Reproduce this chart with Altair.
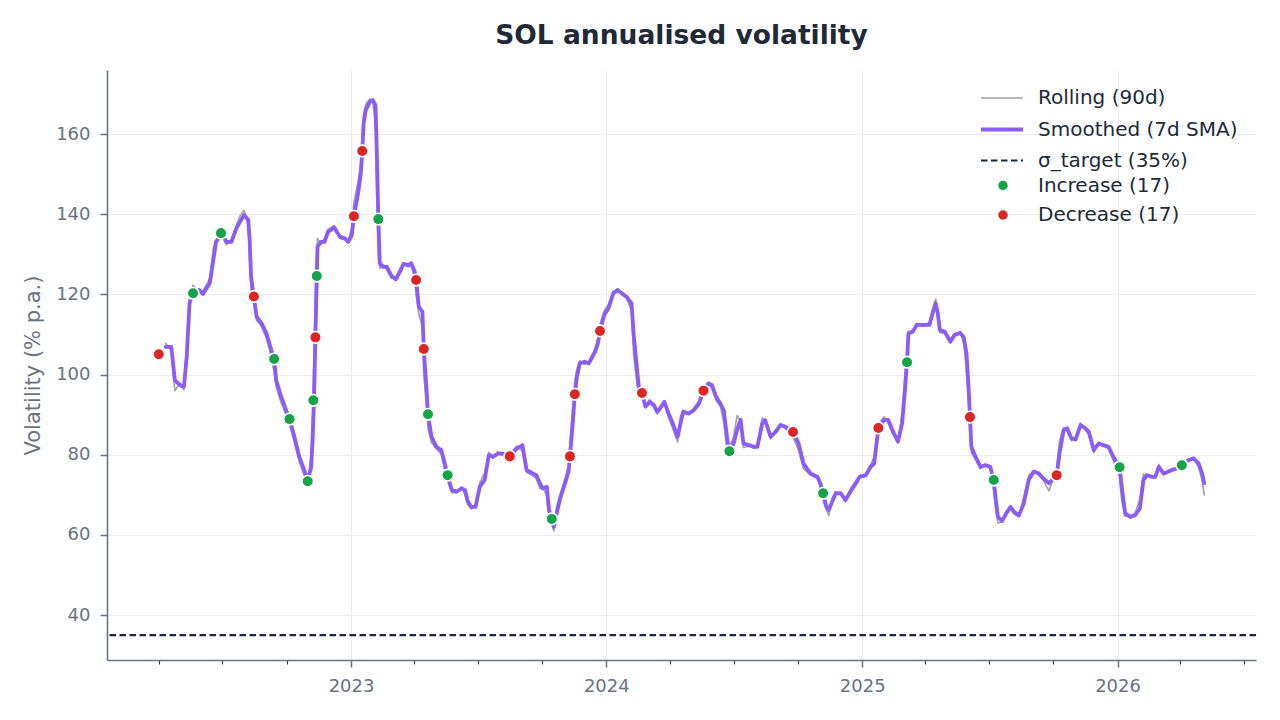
import altair as alt
import pandas as pd

# ---- data ----
dates = [
    # 2022
    "2022-04-11","2022-04-19","2022-04-24","2022-05-01","2022-05-07","2022-05-11","2022-05-15","2022-05-20","2022-05-29","2022-06-03",
    "2022-06-13","2022-06-18","2022-06-22","2022-06-30","2022-07-07","2022-07-14","2022-07-21","2022-07-26","2022-08-01","2022-08-07",
    "2022-08-09","2022-08-11","2022-08-15","2022-08-19","2022-08-26","2022-09-02","2022-09-09","2022-09-13","2022-09-16","2022-09-23",
    "2022-10-01","2022-10-05","2022-10-12","2022-10-19","2022-10-26","2022-10-31","2022-11-05","2022-11-07","2022-11-09","2022-11-11",
    "2022-11-13","2022-11-14","2022-11-19","2022-11-24","2022-11-29","2022-12-08","2022-12-16","2022-12-23","2022-12-28",
    # 2023
    "2023-01-02","2023-01-05","2023-01-11","2023-01-15","2023-01-17","2023-01-19","2023-01-22","2023-01-28","2023-02-01","2023-02-05",
    "2023-02-07","2023-02-09","2023-02-11","2023-02-16","2023-02-21","2023-02-28","2023-03-06","2023-03-12","2023-03-17","2023-03-24",
    "2023-03-28","2023-04-02","2023-04-04","2023-04-08","2023-04-13","2023-04-15","2023-04-19","2023-04-21","2023-04-26","2023-05-03",
    "2023-05-10","2023-05-15","2023-05-19","2023-05-25","2023-06-01","2023-06-08","2023-06-13","2023-06-17","2023-06-22","2023-06-28",
    "2023-07-04","2023-07-11","2023-07-17","2023-07-23","2023-07-30","2023-08-06","2023-08-16","2023-08-26","2023-09-03","2023-09-09",
    "2023-09-16","2023-09-23","2023-09-28","2023-10-02","2023-10-08","2023-10-11","2023-10-15","2023-10-18","2023-10-22","2023-10-27",
    "2023-11-03","2023-11-08","2023-11-10","2023-11-14","2023-11-17","2023-11-20","2023-11-24","2023-12-01","2023-12-07","2023-12-16",
    "2023-12-20","2023-12-23","2023-12-29",
    # 2024
    "2024-01-04","2024-01-11","2024-01-17","2024-01-23","2024-01-30","2024-02-06","2024-02-09","2024-02-14","2024-02-17","2024-02-21",
    "2024-02-26","2024-03-03","2024-03-09","2024-03-14","2024-03-18","2024-03-24","2024-03-30","2024-04-06","2024-04-12","2024-04-16",
    "2024-04-20","2024-04-28","2024-05-05","2024-05-12","2024-05-19","2024-05-26","2024-05-31","2024-06-06","2024-06-12","2024-06-17",
    "2024-06-22","2024-06-25","2024-07-01","2024-07-06","2024-07-11","2024-07-15","2024-07-23","2024-07-30","2024-08-04","2024-08-11",
    "2024-08-15","2024-08-23","2024-08-30","2024-09-06","2024-09-13","2024-09-24","2024-10-02","2024-10-09","2024-10-19","2024-10-29",
    "2024-11-02","2024-11-06","2024-11-10","2024-11-14","2024-11-19","2024-11-24","2024-12-01","2024-12-08","2024-12-15","2024-12-23",
    "2024-12-28",
    # 2025
    "2025-01-06","2025-01-13","2025-01-18","2025-01-22","2025-01-24","2025-02-01","2025-02-07","2025-02-13","2025-02-21","2025-02-27",
    "2025-03-03","2025-03-06","2025-03-08","2025-03-14","2025-03-20","2025-03-28","2025-04-07","2025-04-11","2025-04-16","2025-04-19",
    "2025-04-22","2025-04-29","2025-05-07","2025-05-13","2025-05-21","2025-05-26","2025-05-30","2025-06-02","2025-06-04","2025-06-06",
    "2025-06-12","2025-06-19","2025-06-26","2025-07-03","2025-07-08","2025-07-11","2025-07-14","2025-07-20","2025-07-26","2025-08-01",
    "2025-08-06","2025-08-13","2025-08-20","2025-08-27","2025-09-03","2025-09-10","2025-09-17","2025-09-25","2025-10-06","2025-10-10",
    "2025-10-16","2025-10-21","2025-10-27","2025-11-02","2025-11-09","2025-11-16","2025-11-21","2025-11-28","2025-12-05","2025-12-12",
    "2025-12-19","2025-12-26",
    # 2026
    "2026-01-04","2026-01-07","2026-01-12","2026-01-19","2026-01-26","2026-02-02","2026-02-07","2026-02-12","2026-02-19","2026-02-24",
    "2026-03-01","2026-03-08","2026-03-17","2026-03-27","2026-04-03","2026-04-13","2026-04-20","2026-04-27","2026-05-02","2026-05-05",
]

smoothed = [
    # 2022
    106.9,106.9,98.6,97.4,97.0,104.4,117.8,120.7,121.1,120.1,
    122.8,128.6,133.1,135.2,133.1,133.1,136.5,138.1,139.8,138.6,
    133.6,124.4,119.4,114.4,112.8,110.3,106.1,103.8,98.6,94.5,
    90.7,88.9,84.5,79.5,76.2,73.5,77.0,83.7,93.6,109.4,
    124.6,131.9,133.1,133.1,135.6,136.7,134.4,134.0,133.1,
    # 2023
    134.8,139.5,145.2,150.2,155.8,162.7,166.0,168.1,168.5,167.2,
    154.3,139.0,127.8,126.9,126.9,124.6,123.8,125.7,127.6,127.3,
    127.8,125.7,123.6,116.9,115.7,106.3,96.1,90.1,84.5,82.0,
    81.2,77.8,74.8,71.2,70.8,71.6,71.2,68.3,67.0,67.0,
    72.0,73.7,79.9,79.5,80.3,80.3,79.5,81.6,82.4,76.2,
    75.5,74.9,72.9,71.6,72.0,66.2,64.0,62.0,65.4,69.1,
    72.9,75.8,79.5,87.8,95.1,99.5,102.8,103.2,102.8,105.7,
    107.8,110.9,114.9,
    # 2024
    116.5,120.3,121.1,120.3,119.4,117.8,110.3,101.1,96.1,95.3,
    92.0,93.2,92.4,90.7,91.6,93.2,90.3,87.4,84.5,87.8,
    90.7,90.3,91.1,92.6,95.9,97.8,97.4,94.5,92.8,91.1,
    83.7,80.9,82.8,86.2,88.7,82.8,82.4,82.0,82.0,87.8,
    88.7,84.5,85.7,87.4,87.0,85.6,82.8,77.8,75.3,74.5,
    72.9,70.5,67.4,66.2,68.3,70.4,70.4,68.7,70.8,72.9,
    74.5,
    # 2025
    74.9,77.0,77.8,83.7,86.6,88.7,88.7,86.2,83.3,87.8,
    96.1,103.0,110.3,110.7,112.4,112.4,112.4,114.9,117.8,115.3,
    111.1,110.7,108.2,109.9,110.4,109.4,105.3,97.0,89.4,82.0,
    79.5,77.0,77.4,77.0,73.7,68.7,64.5,63.5,65.4,67.0,
    65.8,64.9,67.9,73.7,75.8,75.4,74.1,72.9,74.9,80.3,
    86.2,86.6,84.1,83.8,87.4,86.6,85.7,81.2,82.8,82.4,
    82.0,79.5,
    # 2026
    76.9,72.0,65.4,64.5,64.9,66.6,73.7,74.9,74.5,74.5,
    77.0,75.3,76.0,76.6,77.4,78.7,79.1,77.8,75.3,72.9,
]

rolling = [
    # 2022
    107.8,106.0,96.0,97.8,96.2,108.0,119.5,122.3,120.4,120.8,
    124.0,131.5,133.8,134.5,132.4,133.8,137.2,139.5,141.0,137.2,
    128.5,121.0,117.5,113.5,112.0,109.0,104.5,100.5,96.8,93.0,
    89.5,87.6,83.0,78.2,74.8,72.4,80.5,90.0,104.0,121.0,
    131.0,134.0,132.5,134.0,136.2,137.2,134.0,133.6,133.5,
    # 2023
    136.5,143.0,148.0,153.0,160.0,165.0,167.5,168.8,168.2,162.0,
    142.0,130.0,126.5,127.3,126.2,124.0,124.2,126.4,128.0,126.9,
    127.2,124.0,120.0,115.0,112.0,100.0,92.0,86.5,83.0,81.5,
    80.2,76.0,73.5,70.5,70.6,72.0,70.0,67.5,66.5,67.4,
    73.0,75.5,80.6,79.2,80.8,79.8,80.2,82.2,81.0,75.6,
    75.0,74.0,71.5,72.2,69.5,64.5,62.8,61.0,67.0,70.2,
    74.0,77.5,83.0,92.0,98.5,101.5,103.5,102.6,103.3,106.5,
    109.2,112.5,116.0,
    # 2024
    117.5,120.8,121.4,120.0,119.0,116.0,105.0,97.5,95.0,94.2,
    92.4,93.8,91.8,90.2,92.0,92.8,89.4,86.0,83.2,89.5,
    91.2,90.0,91.6,93.4,96.8,97.9,96.5,93.5,92.2,88.0,
    80.5,82.0,84.5,89.8,88.5,81.8,82.2,81.6,82.6,89.2,
    88.0,84.0,86.2,87.8,86.5,84.5,81.0,76.5,75.0,74.0,
    71.8,68.8,66.5,64.8,69.2,70.8,70.2,68.3,71.5,73.6,
    74.8,
    # 2025
    75.2,77.5,79.5,85.5,87.5,89.5,88.0,85.4,83.0,90.5,
    100.0,106.5,110.8,110.5,112.8,112.0,113.0,116.0,118.8,113.5,
    110.5,110.2,108.8,110.2,110.6,108.0,101.0,93.0,85.0,80.5,
    78.8,76.5,77.6,76.6,71.0,66.0,63.0,63.2,66.0,66.4,
    65.2,64.5,69.5,74.8,75.9,75.0,73.6,71.0,76.5,83.5,
    86.8,86.2,83.5,84.4,87.9,86.2,85.0,80.5,83.2,82.1,
    81.6,78.5,
    # 2026
    74.5,68.5,64.6,64.8,65.3,69.0,75.2,74.6,74.8,74.8,
    77.6,75.0,76.3,76.9,77.8,79.0,78.8,77.0,73.5,70.0,
]

inc_dates = ["2022-05-20","2022-06-29","2022-09-13","2022-10-05","2022-10-31","2022-11-08","2022-11-13",
             "2023-02-09","2023-04-21","2023-05-19","2023-10-15","2024-06-25","2024-11-06","2025-03-06",
             "2025-07-08","2026-01-04","2026-04-03"]
inc_vals = [120.3,135.3,103.9,88.9,73.4,93.6,124.6,138.8,90.1,74.9,64.0,80.9,70.4,103.1,73.7,76.9,77.4]

dec_dates = ["2022-04-01","2022-08-15","2022-11-11","2023-01-05","2023-01-17","2023-04-04","2023-04-15",
             "2023-08-16","2023-11-10","2023-11-17","2023-12-23","2024-02-21","2024-05-19","2024-09-24",
             "2025-01-24","2025-06-04","2025-10-06"]
dec_vals = [105.1,119.5,109.3,139.5,155.8,123.6,106.4,79.6,79.6,95.1,110.9,95.4,96.0,85.7,86.7,89.4,74.9]

sigma_target = 35

series_names = ["Rolling (90d)", "Smoothed (7d SMA)", "σ_target (35%)"]
marker_names = [f"Increase ({len(inc_vals)})", f"Decrease ({len(dec_vals)})"]

y_ticks = [40, 60, 80, 100, 120, 140, 160]
tick_quarters = [(y, m) for y in range(2022, 2027) for m in (1, 4, 7, 10)
                 if (y, m) >= (2022, 4) and (y, m) <= (2026, 7)]

# ---- tables ----
lines_df = pd.concat([
    pd.DataFrame({"date": dates, "value": rolling, "series": series_names[0]}),
    pd.DataFrame({"date": dates, "value": smoothed, "series": series_names[1]}),
], ignore_index=True)
target_df = pd.DataFrame({"value": [sigma_target], "series": [series_names[2]]})
points_df = pd.concat([
    pd.DataFrame({"date": inc_dates, "value": inc_vals, "kind": marker_names[0]}),
    pd.DataFrame({"date": dec_dates, "value": dec_vals, "kind": marker_names[1]}),
], ignore_index=True)

# ---- styling ----
FONT = "DejaVu Sans"
GRAY = "#6b7280"
DARK = "#1f2937"
GRID = "#ececf0"
line_colors = ["#a1a4ab", "#8b5cf6", "#1e2542"]
line_dashes = [[1, 0], [1, 0], [6.5, 3.5]]
line_widths = [1.7, 3.8, 2.2]
marker_colors = ["#16a34a", "#dc2626"]

x_scale = alt.Scale(
    type="utc",
    domain=[alt.DateTime(year=2022, month=1, date=17, utc=True),
            alt.DateTime(year=2026, month=7, date=18, utc=True)],
)
y_scale = alt.Scale(domain=[28.8, 176], nice=False, zero=False)

major = "utcmonth(datum.value) === 0"
x_axis = alt.Axis(
    values=[alt.DateTime(year=y, month=m, date=1, utc=True) for y, m in tick_quarters],
    labelExpr="utcmonth(datum.value) === 0 ? utcFormat(datum.value, '%Y') : ''",
    title=None,
    grid=True,
    gridColor=GRID,
    gridOpacity={"condition": {"test": major, "value": 1}, "value": 0},
    tickSize={"condition": {"test": major, "value": 7}, "value": 4},
    tickColor={"condition": {"test": major, "value": GRAY}, "value": "#2b2f38"},
    tickWidth={"condition": {"test": major, "value": 1.5}, "value": 1.1},
    labelPadding=10,
    labelFontSize=18,
    labelColor=GRAY,
    labelFont=FONT,
    domainColor=GRAY,
    domainWidth=1.6,
    labelFlush=False,
)
y_axis = alt.Axis(
    values=y_ticks,
    title="Volatility (% p.a.)",
    titleFontSize=21,
    titleFontWeight="normal",
    titleColor=GRAY,
    titleFont=FONT,
    titlePadding=12,
    grid=True,
    gridColor=GRID,
    tickSize=7,
    tickColor=GRAY,
    tickWidth=1.5,
    labelPadding=10,
    labelFontSize=18,
    labelColor=GRAY,
    labelFont=FONT,
    domainColor=GRAY,
    domainWidth=1.6,
)

# a long horizontal stroke for the line entries (42px wide on a 20px row)
line_legend = alt.Legend(
    orient="none", legendX=883, legendY=17, title=None,
    symbolType="M-2.1,0L2.1,0", symbolSize=400, labelOffset=24,
    labelFontSize=20, labelColor=DARK, labelFont=FONT, labelLimit=400,
    rowPadding=9.5, padding=0,
)
marker_legend = alt.Legend(
    orient="none", legendX=886, legendY=105.5, title=None,
    symbolType="circle", symbolSize=90, symbolStrokeWidth=0, labelOffset=25,
    labelFontSize=20, labelColor=DARK, labelFont=FONT, labelLimit=400,
    rowPadding=9.5, padding=0,
)

color_enc = alt.Color("series:N", scale=alt.Scale(domain=series_names, range=line_colors), legend=line_legend)
dash_enc = alt.StrokeDash("series:N", scale=alt.Scale(domain=series_names, range=line_dashes), legend=line_legend)
width_enc = alt.StrokeWidth("series:N", scale=alt.Scale(type="ordinal", domain=series_names, range=line_widths),
                            legend=line_legend)

lines = alt.Chart(lines_df).mark_line(strokeJoin="round", strokeCap="round").encode(
    x=alt.X("date:T", scale=x_scale, axis=x_axis),
    y=alt.Y("value:Q", scale=y_scale, axis=y_axis),
    color=color_enc,
    strokeDash=dash_enc,
    strokeWidth=width_enc,
    order=alt.Order("date:T"),
)

target = alt.Chart(target_df).mark_rule(strokeCap="butt").encode(
    y=alt.Y("value:Q", scale=y_scale),
    color=color_enc,
    strokeDash=dash_enc,
    strokeWidth=width_enc,
)

points = alt.Chart(points_df).mark_circle(size=135, opacity=1, stroke="white", strokeWidth=1.6).encode(
    x=alt.X("date:T", scale=x_scale),
    y=alt.Y("value:Q", scale=y_scale),
    fill=alt.Fill("kind:N", scale=alt.Scale(domain=marker_names, range=marker_colors), legend=marker_legend),
)

chart = alt.layer(lines, target, points).properties(
    width=1149,
    height=590,
    title=alt.Title("SOL annualised volatility", fontSize=26.5, font=FONT, fontWeight="bold",
                    color=DARK, anchor="middle", offset=21),
    autosize=alt.AutoSizeParams(type="none"),
    padding={"left": 99, "top": 62, "right": 16, "bottom": 44},
).configure(font=FONT, background="white").configure_view(stroke=None)

chart.save("out.html", embed_options={"renderer": "svg", "actions": False})
